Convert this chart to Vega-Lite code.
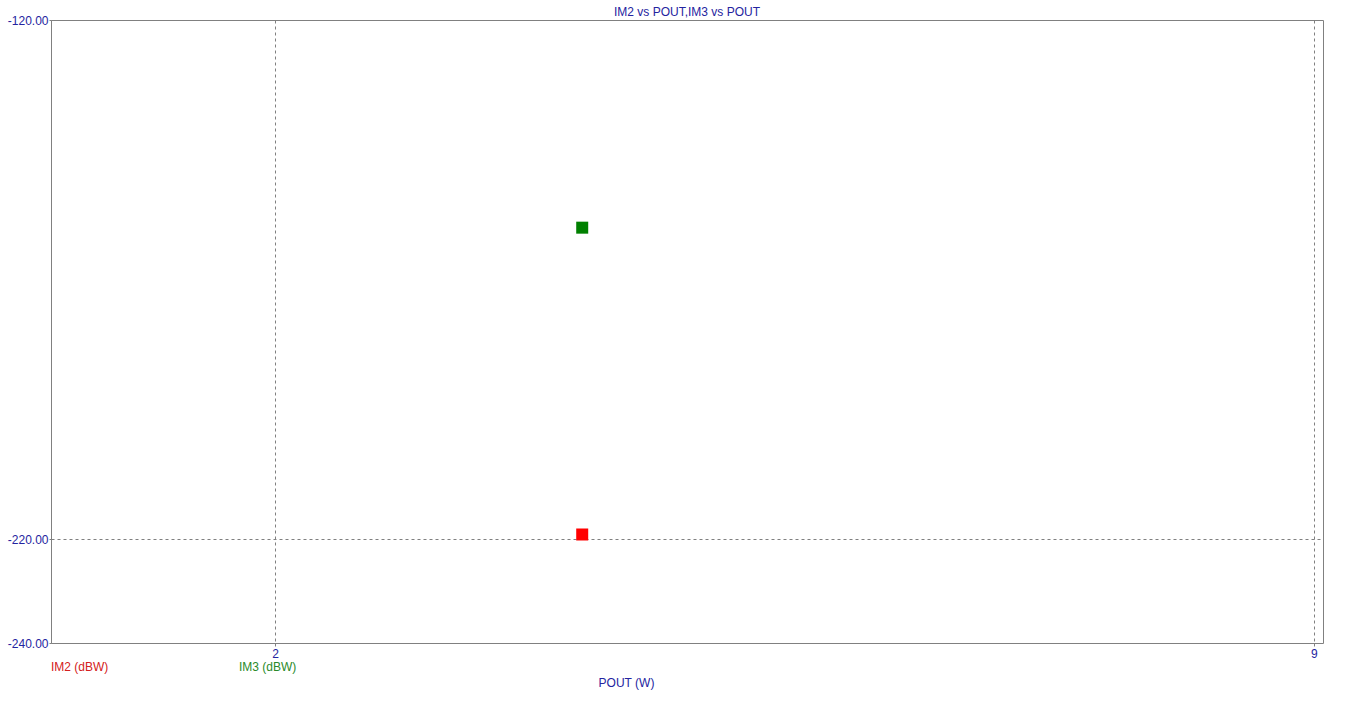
{
  "$schema": "https://vega.github.io/schema/vega-lite/v6.json",
  "width": 1272,
  "height": 623,
  "autosize": {"type": "none"},
  "padding": {"left": 51, "top": 20, "right": 32, "bottom": 59},
  "background": "white",
  "title": {
    "text": "IM2 vs POUT,IM3 vs POUT",
    "anchor": "middle",
    "offset": -5,
    "fontSize": 12,
    "fontWeight": "normal",
    "font": "Liberation Sans",
    "color": "#2424a0"
  },
  "config": {
    "view": {"stroke": "#808080", "strokeWidth": 1},
    "axis": {
      "labelFont": "Liberation Sans",
      "labelFontSize": 12,
      "labelColor": "#2424a0",
      "titleFont": "Liberation Sans",
      "titleFontSize": 12,
      "titleFontWeight": "normal",
      "titleColor": "#2424a0",
      "domain": false,
      "tickColor": "#808080",
      "tickSize": 3,
      "gridColor": "#808080",
      "gridDash": [3, 3],
      "gridOpacity": 1,
      "gridWidth": 1
    }
  },
  "data": {
    "values": [
      {"pout": 4.07, "value": -219.1, "series": "IM2 (dBW)"},
      {"pout": 4.07, "value": -160.0, "series": "IM3 (dBW)"}
    ]
  },
  "mark": {"type": "square", "filled": true, "size": 144, "opacity": 1},
  "encoding": {
    "x": {
      "field": "pout",
      "type": "quantitative",
      "scale": {"domain": [0.491, 9.061], "nice": false, "zero": false},
      "axis": {
        "values": [2, 9],
        "format": "d",
        "labelPadding": 2,
        "title": "POUT (W)",
        "titleX": 575,
        "titleY": 43,
        "titleBaseline": "alphabetic",
        "titleAnchor": null
      }
    },
    "y": {
      "field": "value",
      "type": "quantitative",
      "scale": {"domain": [-240, -120], "nice": false, "zero": false},
      "axis": {
        "values": [-240, -220, -120],
        "format": ".2f",
        "labelExpr": "replace(datum.label, '\u2212', '-')",
        "labelPadding": 1,
        "tickSize": 2,
        "title": null
      }
    },
    "color": {
      "field": "series",
      "type": "nominal",
      "scale": {"domain": ["IM2 (dBW)", "IM3 (dBW)"], "range": ["#ff0000", "#008000"]},
      "legend": {
        "orient": "none",
        "legendX": -12,
        "legendY": 641,
        "direction": "horizontal",
        "title": null,
        "symbolSize": 0,
        "symbolOpacity": 0,
        "symbolStrokeWidth": 0,
        "labelOffset": 0,
        "columnPadding": 118,
        "labelFont": "Liberation Sans",
        "labelFontSize": 12,
        "padding": 0,
        "encode": {
          "labels": {
            "update": {
              "fill": {"signal": "datum.label === 'IM2 (dBW)' ? '#d42020' : '#2a8a2a'"}
            }
          }
        }
      }
    }
  }
}
